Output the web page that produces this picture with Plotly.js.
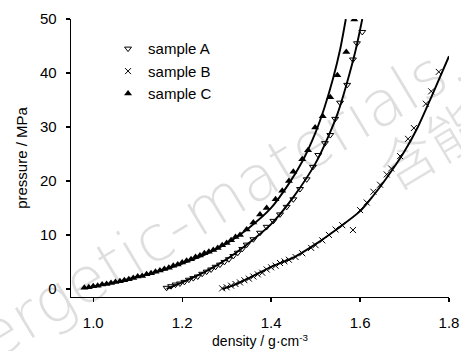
<!DOCTYPE html>
<html>
<head>
<meta charset="utf-8">
<script src="https://cdn.plot.ly/plotly-3.0.1.min.js"></script>
<style>html,body{margin:0;padding:0;background:#fff;}#chart{width:461px;height:351px;}</style>
</head>
<body>
<div id="chart"></div>
<script>
// ---- data ----
const seriesNames = ["sample A", "sample B", "sample C"];

// sample A (open down-triangles)
const densityA = [1.165,1.175,1.185,1.195,1.205,1.215,1.225,1.235,1.245,1.255,1.265,1.275,1.285,1.295,1.305,1.315,1.325,1.335,1.345,1.36,1.375,1.39,1.405,1.42,1.435,1.45,1.465,1.48,1.494,1.506,1.521,1.533,1.544,1.555,1.571,1.584,1.593,1.605];
const pressureA = [0.2,0.5,0.8,1.0,1.3,1.7,2.0,2.3,2.8,3.2,3.6,4.1,4.5,5.0,5.5,6.1,6.7,7.4,8.2,9.2,10.4,11.5,12.6,13.8,15.2,16.6,18.5,20.3,22.6,24.8,27.0,28.5,31.5,34.5,37.8,42.5,45.5,47.6];
// sample A fitted curve
const fitDensityA = [1.165,1.20,1.25,1.30,1.35,1.40,1.45,1.50,1.53,1.55,1.57,1.59,1.605];
const fitPressureA = [0.0,1.2,3.1,5.5,8.5,12.0,17.0,23.3,28.5,32.6,38.0,44.2,50.0];

// sample B (crosses)
const densityB = [1.29,1.30,1.31,1.32,1.33,1.34,1.35,1.36,1.37,1.38,1.39,1.40,1.41,1.42,1.43,1.44,1.455,1.47,1.49,1.50,1.515,1.53,1.545,1.56,1.584,1.60,1.615,1.63,1.645,1.66,1.67,1.69,1.708,1.721,1.748,1.76,1.777];
const pressureB = [0.1,0.3,0.6,0.9,1.2,1.6,1.9,2.3,2.7,3.0,3.6,4.0,4.3,4.8,5.1,5.4,5.9,6.6,7.6,8.1,9.0,10.0,11.0,11.8,10.9,14.6,16.0,18.0,19.3,21.2,22.3,24.6,27.8,29.8,34.3,36.6,40.2];
// sample B fitted curve
const fitDensityB = [1.29,1.31,1.35,1.40,1.45,1.50,1.55,1.60,1.63,1.66,1.70,1.73,1.76,1.80];
const fitPressureB = [0.0,0.5,2.0,4.1,5.8,8.3,11.2,14.4,17.3,20.6,25.5,30.0,35.5,43.1];

// sample C (filled up-triangles)
const densityC = [0.98,0.99,1.00,1.01,1.02,1.03,1.04,1.05,1.06,1.07,1.08,1.09,1.10,1.11,1.12,1.13,1.14,1.15,1.16,1.17,1.18,1.19,1.20,1.21,1.22,1.23,1.24,1.25,1.26,1.27,1.28,1.29,1.30,1.31,1.32,1.33,1.345,1.36,1.375,1.39,1.41,1.425,1.44,1.45,1.47,1.483,1.499,1.516,1.533,1.549,1.569,1.587];
const pressureC = [0.2,0.3,0.5,0.6,0.8,0.9,1.1,1.3,1.4,1.6,1.8,2.0,2.3,2.4,2.7,2.9,3.2,3.4,3.7,3.9,4.3,4.5,4.9,5.2,5.5,5.9,6.2,6.6,6.9,7.2,7.6,8.1,8.5,9.0,9.6,10.0,11.0,12.3,13.8,15.0,16.6,18.2,20.0,21.7,24.0,25.7,29.9,32.0,35.5,39.6,43.9,49.9];
// sample C fitted curve
const fitDensityC = [0.98,1.00,1.05,1.10,1.15,1.20,1.25,1.30,1.35,1.40,1.44,1.47,1.50,1.52,1.54,1.555,1.568];
const fitPressureC = [0.1,0.4,1.2,2.2,3.3,4.7,6.3,8.4,11.3,15.0,19.5,23.6,29.0,33.6,39.2,44.3,50.0];

// axis ticks
const xTicks = [1.0,1.2,1.4,1.6,1.8];
const xTickLabels = ["1.0","1.2","1.4","1.6","1.8"];
const yTicks = [0,10,20,30,40,50];
const yTickLabels = ["0","10","20","30","40","50"];

// ---- traces ----
const FONT = "Liberation Sans, Arial, sans-serif";
const fitLine = {color:"#000", width:1.9, shape:"spline", smoothing:0.8};

const traces = [
  {x:fitDensityC, y:fitPressureC, mode:"lines", line:fitLine, showlegend:false, hoverinfo:"skip"},
  {x:fitDensityA, y:fitPressureA, mode:"lines", line:fitLine, showlegend:false, hoverinfo:"skip"},
  {x:fitDensityB, y:fitPressureB, mode:"lines", line:fitLine, showlegend:false, hoverinfo:"skip"},
  {x:densityA, y:pressureA, name:seriesNames[0], mode:"markers",
   marker:{symbol:"triangle-down-open", size:6, color:"#000", line:{width:1, color:"#000"}}},
  {x:densityB, y:pressureB, name:seriesNames[1], mode:"markers",
   marker:{symbol:"x-thin-open", size:6, color:"#000", line:{width:1, color:"#000"}}},
  {x:densityC, y:pressureC, name:seriesNames[2], mode:"markers",
   marker:{symbol:"triangle-up", size:7, color:"#000", line:{width:0}}}
];

const layout = {
  width:461, height:351,
  margin:{l:71, r:12, t:19, b:54},
  paper_bgcolor:"#fff", plot_bgcolor:"#fff",
  font:{family:FONT, size:15, color:"#000"},
  xaxis:{
    range:[0.95,1.8], tickvals:xTicks, ticktext:xTickLabels,
    showgrid:false, zeroline:false, showline:true, linecolor:"#000", linewidth:1.3,
    ticks:"outside", ticklen:4, tickwidth:1.3, tickcolor:"#000",
    tickfont:{family:FONT, size:15}, ticklabelstandoff:8,
    title:{text:"density / g·cm<sup>-3</sup>", font:{family:FONT, size:14}, standoff:6}
  },
  yaxis:{
    range:[-1.5,50], tickvals:yTicks, ticktext:yTickLabels,
    showgrid:false, zeroline:false, showline:true, linecolor:"#000", linewidth:1.3,
    ticks:"outside", ticklen:4, tickwidth:1.3, tickcolor:"#000",
    tickfont:{family:FONT, size:15}, ticklabelstandoff:6,
    title:{text:"pressure / MPa", font:{family:FONT, size:15}, standoff:8}
  },
  legend:{x:0.098, y:0.952, xanchor:"left", yanchor:"top", bgcolor:"rgba(0,0,0,0)",
          font:{family:FONT, size:15}, itemwidth:30, tracegroupgap:0},
  annotations:[
    {text:"energetic-materials.org", xref:"paper", yref:"paper", x:0.42, y:0.37,
     xanchor:"center", yanchor:"middle", textangle:-31, showarrow:false,
     font:{family:"DejaVu Sans, sans-serif", weight:200, size:63, color:"rgba(0,0,0,0.13)"}},
    {text:"含能材料", xref:"paper", yref:"paper", x:1.077, y:0.66,
     xanchor:"center", yanchor:"middle", textangle:-31, showarrow:false,
     font:{family:"Noto Sans CJK SC, sans-serif", weight:300, size:56, color:"rgba(0,0,0,0.12)"}}
  ]
};

Plotly.newPlot("chart", traces, layout, {displayModeBar:false, staticPlot:true});
</script>
</body>
</html>
